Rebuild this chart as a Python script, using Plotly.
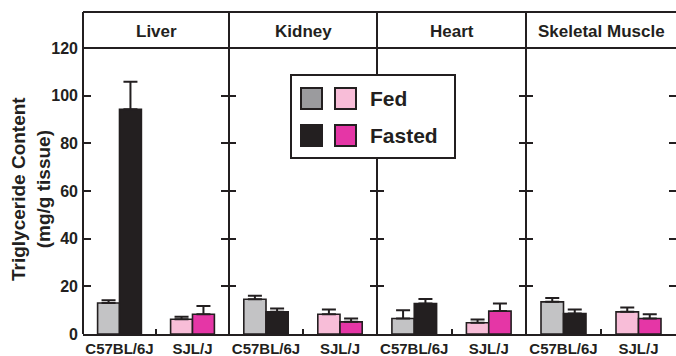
import plotly.graph_objects as go

# ---- data ----
tissues = ["Liver", "Kidney", "Heart", "Skeletal Muscle"]
strains = ["C57BL/6J", "SJL/J"]
fed_mean = [[13.0, 6.2], [14.6, 8.3], [6.5, 4.7], [13.5, 9.3]]
fed_err = [[1.2, 1.0], [1.4, 2.0], [3.5, 1.4], [1.6, 1.8]]
fasted_mean = [[94.3, 8.3], [9.3, 5.1], [12.8, 9.6], [8.6, 6.5]]
fasted_err = [[11.5, 3.4], [1.4, 1.4], [1.9, 3.2], [1.7, 1.8]]
y_ticks = [0, 20, 40, 60, 80, 100, 120]

# ---- style ----
INK = "#231f20"
FED_COLORS = ["#c3c3c5", "#f8bdd8"]
FASTED_COLORS = ["#231f20", "#e536a6"]
LEG_GRAY = "#9b9b9e"
FONT = "Liberation Sans"

W, H = 676, 356
L, R, T, B = 83, 0, 48, 22
PW, PH = W - L - R, H - T - B
bounds = [83, 229, 377, 526, 676]


def px(x):
    return (x - L) / PW


def py(y):
    return (H - B - y) / PH


fig = go.Figure()
layout = dict(
    width=W, height=H,
    margin=dict(l=L, r=R, t=T, b=B, autoexpand=False),
    paper_bgcolor="white", plot_bgcolor="white",
    barmode="group", bargap=0.4, bargroupgap=0,
    showlegend=False,
    font=dict(family=FONT, color=INK),
)

for i, t in enumerate(tissues):
    sfx = "" if i == 0 else str(i + 1)
    xa, ya = "x" + sfx, "y" + sfx
    fig.add_trace(go.Bar(
        x=strains, y=fed_mean[i], xaxis=xa, yaxis=ya,
        marker=dict(color=FED_COLORS, line=dict(color=INK, width=1.6)),
        error_y=dict(type="data", array=fed_err[i], arrayminus=[0, 0],
                     symmetric=False, color=INK, thickness=2, width=7),
    ))
    fig.add_trace(go.Bar(
        x=strains, y=fasted_mean[i], xaxis=xa, yaxis=ya,
        marker=dict(color=FASTED_COLORS, line=dict(color=INK, width=1.6)),
        error_y=dict(type="data", array=fasted_err[i], arrayminus=[0, 0],
                     symmetric=False, color=INK, thickness=2, width=7),
    ))
    dom = [px(bounds[i]), px(bounds[i + 1])]
    layout["xaxis" + sfx] = dict(
        domain=dom, anchor=ya, type="category", range=[-0.5, 1.5],
        showline=True, linecolor=INK, linewidth=2,
        ticks="inside", tickson="boundaries", ticklen=5, tickwidth=2, tickcolor=INK,
        tickangle=0, automargin=False,
        tickfont=dict(family=FONT, size=15, color=INK, weight="bold"),
        showgrid=False, zeroline=False, fixedrange=True,
    )
    layout["yaxis" + sfx] = dict(
        domain=[0, 1], anchor=xa, range=[0, 120],
        tickvals=y_ticks, ticktext=[str(v) for v in y_ticks],
        showticklabels=(i == 0), automargin=False,
        ticks="inside", ticklen=8 if i == 0 else 7, tickwidth=2, tickcolor=INK,
        mirror="ticks",
        showline=False, showgrid=False, zeroline=False,
        tickfont=dict(family=FONT, size=16, color=INK, weight="bold"),
        ticklabelstandoff=4,
        fixedrange=True,
    )

shapes = []
line = dict(color=INK, width=2)
# frame: top line, header line, vertical panel lines
shapes.append(dict(type="line", xref="paper", yref="paper",
                   x0=px(83), x1=px(676), y0=py(12), y1=py(12), line=line))
shapes.append(dict(type="line", xref="paper", yref="paper",
                   x0=px(83), x1=px(676), y0=py(48), y1=py(48), line=line))
for b in bounds[:-1]:
    shapes.append(dict(type="line", xref="paper", yref="paper",
                       x0=px(b), x1=px(b), y0=py(12), y1=py(334), line=line))

annotations = []
for i, t in enumerate(tissues):
    annotations.append(dict(
        text=t, xref="paper", yref="paper",
        x=px((bounds[i] + bounds[i + 1]) / 2), y=py(31),
        showarrow=False, xanchor="center", yanchor="middle",
        font=dict(family=FONT, size=17, color=INK, weight="bold"),
    ))

# y-axis title
annotations.append(dict(
    text="Triglyceride Content<br>(mg/g tissue)", xref="paper", yref="paper",
    x=px(31), y=py(189), textangle=-90, showarrow=False,
    xanchor="center", yanchor="middle",
    font=dict(family=FONT, size=19, color=INK, weight="bold"),
))

# legend box
shapes.append(dict(type="rect", xref="paper", yref="paper",
                   x0=px(291), x1=px(455), y0=py(75), y1=py(158),
                   line=line, fillcolor="white"))
legend_rows = [("Fed", LEG_GRAY, FED_COLORS[1], 98.5),
               ("Fasted", FASTED_COLORS[0], FASTED_COLORS[1], 135.5)]
for label, c1, c2, yc in legend_rows:
    for x0, c in ((301, c1), (335, c2)):
        shapes.append(dict(type="rect", xref="paper", yref="paper",
                           x0=px(x0), x1=px(x0 + 21), y0=py(yc - 10.5), y1=py(yc + 10.5),
                           line=dict(color=INK, width=2), fillcolor=c))
    annotations.append(dict(
        text=label, xref="paper", yref="paper", x=px(368), y=py(yc),
        showarrow=False, xanchor="left", yanchor="middle",
        font=dict(family=FONT, size=21, color=INK, weight="bold"),
    ))

layout["shapes"] = shapes
layout["annotations"] = annotations
fig.update_layout(**layout)
fig.write_html("out.html")
